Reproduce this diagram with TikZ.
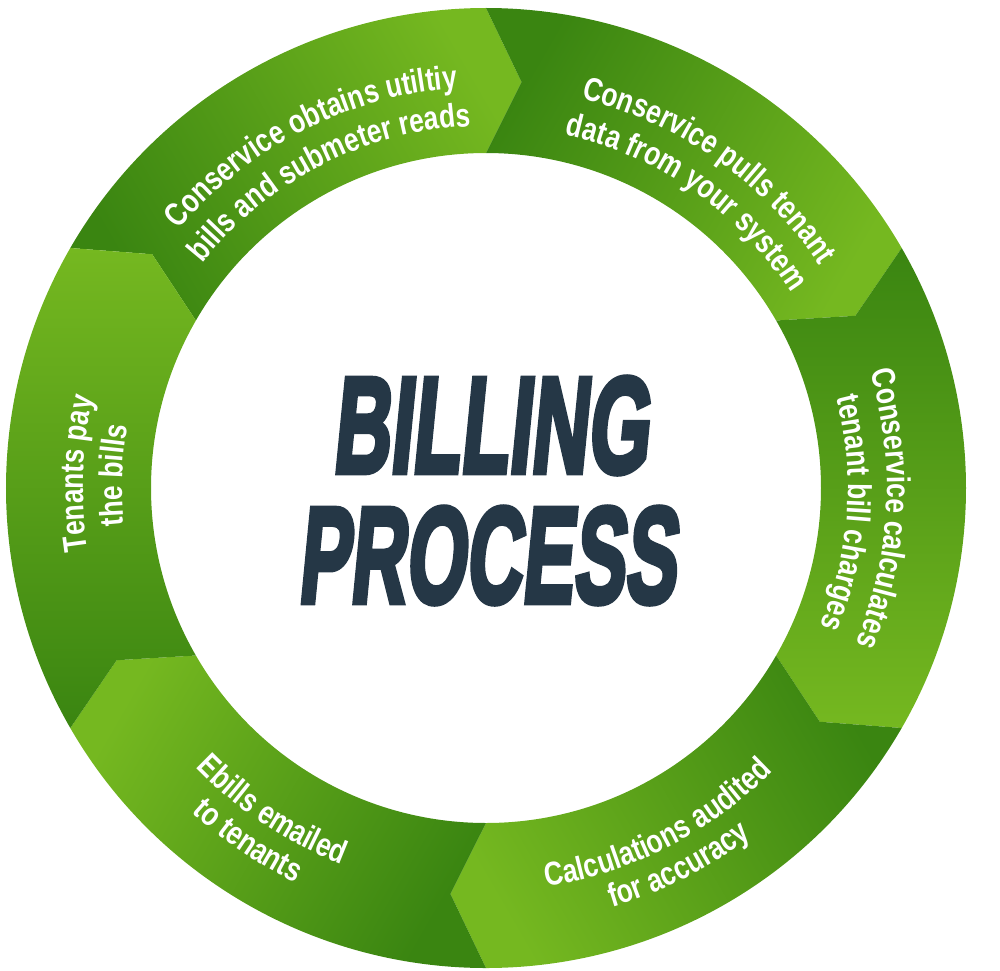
\documentclass[tikz,border=0pt]{standalone}
\usepackage{fontspec}
\usetikzlibrary{decorations.text}
\newfontfamily\lblfont{Liberation Sans}[FakeStretch=0.8]
\newfontfamily\titlefont{Liberation Sans}[FakeSlant=0.17, FakeBold=4.5]
\definecolor{segLight}{RGB}{117,184,32}
\definecolor{segDark}{RGB}{58,133,17}
\definecolor{navy}{RGB}{37,55,70}
\tikzset{
  lbl/.style={decorate, decoration={text along path, text={|\lblfont\bfseries\fontsize{33}{33}\selectfont|#1}, text align=center, text color=white}},
  seg/.style={top color=segLight, bottom color=segDark, shading angle=#1, draw=none}
}
\begin{document}
\begin{tikzpicture}
\path[use as bounding box] (-486pt,-482pt) rectangle (514pt,488pt);
% ring segments (each a chevron pointing clockwise)
\foreach \a in {150,90,30,-30,-90,-150}{
  \pgfmathsetmacro{\b}{\a-60}
  \pgfmathsetmacro{\t}{\a-65}
  \pgfmathsetmacro{\n}{\a-5}
  \pgfmathsetmacro{\sh}{\a+150}
  \shade[seg=\sh] (\a:480pt) arc[start angle=\a, end angle=\b, radius=480pt]
     -- (\t:407.5pt) -- (\b:335pt)
     arc[start angle=\b, end angle=\a, radius=335pt]
     -- (\n:407.5pt) -- cycle;
}
% labels, outward-facing (clockwise reading)
\path[lbl={Conservice obtains utiltiy}] (157:401pt) arc[start angle=157, end angle=77, radius=401pt];
\path[lbl={bills and submeter reads}] (157:362pt) arc[start angle=157, end angle=77, radius=362pt];
\path[lbl={Conservice pulls tenant}] (95:401pt) arc[start angle=95, end angle=15, radius=401pt];
\path[lbl={data from your system}] (95:362pt) arc[start angle=95, end angle=15, radius=362pt];
\path[lbl={Conservice calculates}] (37:401pt) arc[start angle=37, end angle=-43, radius=401pt];
\path[lbl={tenant bill charges}] (36:362pt) arc[start angle=36, end angle=-44, radius=362pt];
\path[lbl={Tenants pay}] (218:403pt) arc[start angle=218, end angle=138, radius=403pt];
\path[lbl={the bills}] (218:364pt) arc[start angle=218, end angle=138, radius=364pt];
% labels, inward-facing (counter-clockwise reading)
\path[lbl={Calculations audited}] (-103:403pt) arc[start angle=-103, end angle=-23, radius=403pt];
\path[lbl={for accuracy}] (-103:438pt) arc[start angle=-103, end angle=-23, radius=438pt];
\path[lbl={Ebills emailed}] (196.5:403pt) arc[start angle=196.5, end angle=276.5, radius=403pt];
\path[lbl={to tenants}] (196:438pt) arc[start angle=196, end angle=276, radius=438pt];
% title
\node[inner sep=0pt, text=navy] (billing) at (4pt,62.5pt) {\resizebox{316pt}{95pt}{\titlefont\bfseries BILLING}};
\node[inner sep=0pt, text=navy] (process) at (0.5pt,-67.5pt) {\resizebox{378pt}{95pt}{\titlefont\bfseries PROCESS}};
\end{tikzpicture}
\end{document}
